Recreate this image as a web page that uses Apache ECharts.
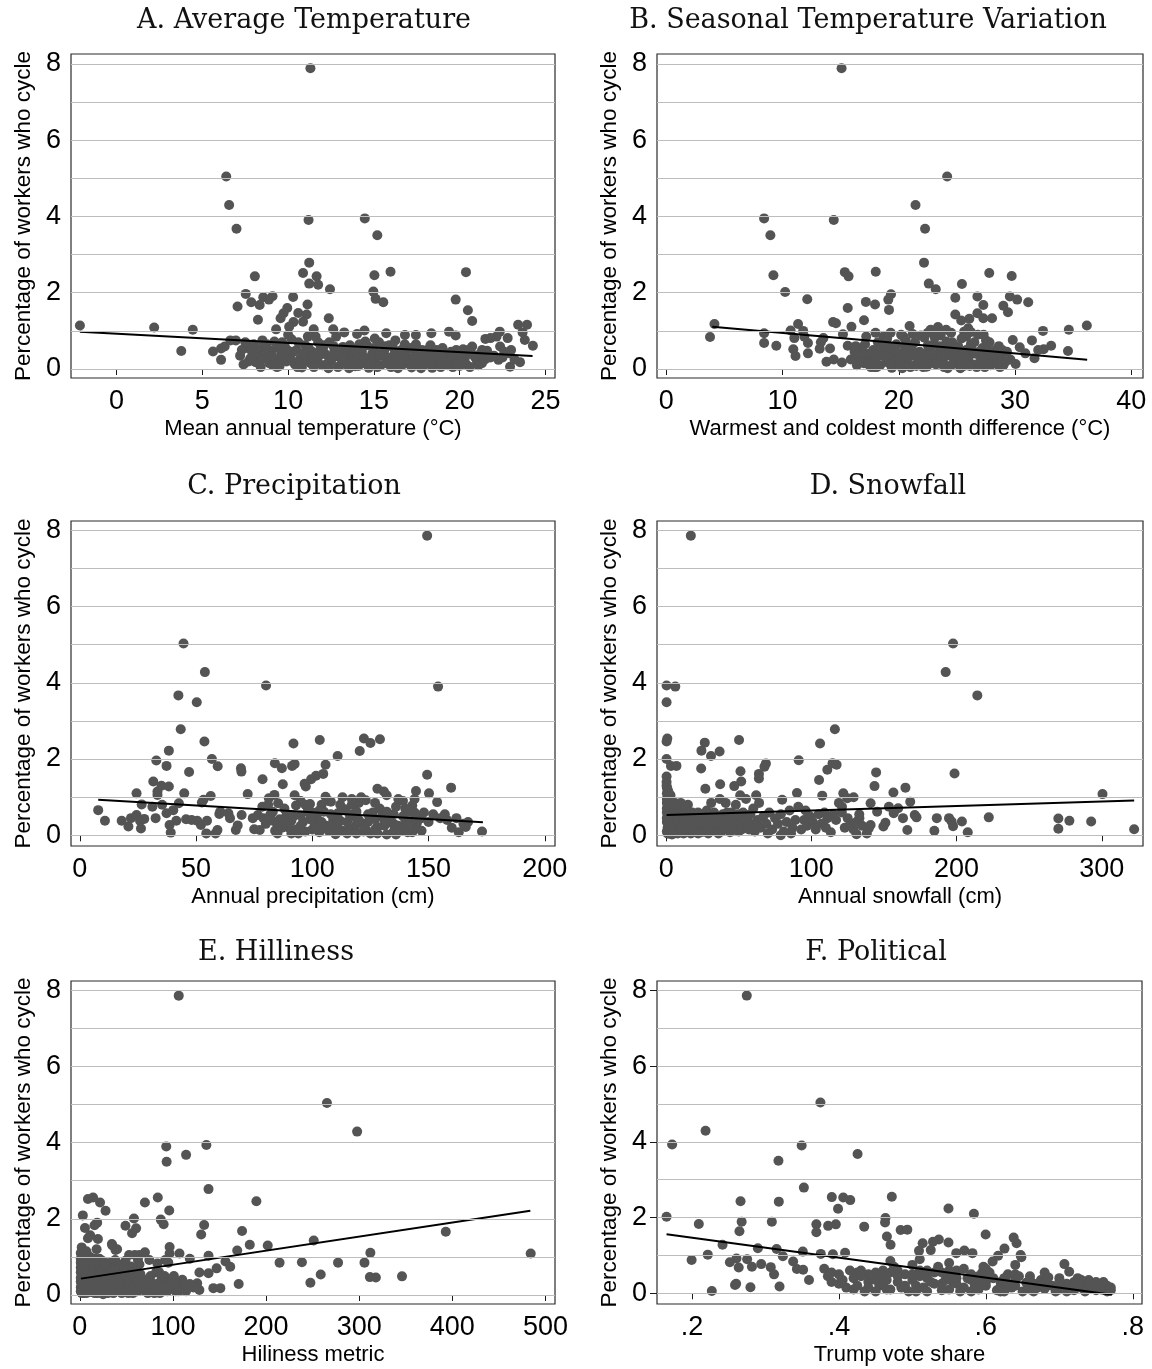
<!DOCTYPE html>
<html>
<head>
<meta charset="utf-8">
<script src="https://cdn.jsdelivr.net/npm/echarts@6/dist/echarts.min.js"></script>
<style>
  html, body { margin: 0; padding: 0; background: #fff; }
  #chart { width: 1152px; height: 1369px; }
</style>
</head>
<body>
<div id="chart"></div>
<script>
// Percentage of workers who cycle, by metro area, against six local characteristics.

const yGridValues = [0, 1, 2, 3, 4, 5, 6, 7, 8];
const yTickValues = [0, 2, 4, 6, 8];

// A. mean annual temperature (°C) vs. cycling share (%)
const avgTempPoints = [
  [11.3,7.89],[6.39,5.05],[6.56,4.30],[6.99,3.68],[11.19,3.91],[14.47,3.95],[15.2,3.51],[11.23,2.79],
  [10.87,2.52],[11.66,2.43],[11.23,2.24],[11.75,2.21],[12.44,2.09],[8.06,2.43],[15.03,2.46],[15.97,2.55],
  [20.37,2.54],[14.97,2.03],[15.1,1.84],[15.55,1.75],[19.77,1.82],[20.48,1.54],[20.73,1.26],[7.53,1.97],
  [7.85,1.75],[7.05,1.64],[8.34,1.68],[8.55,1.88],[9.09,1.91],[8.88,1.82],[10.29,1.89],[11.13,1.69],
  [9.95,1.6],[9.73,1.46],[10.59,1.47],[11.08,1.43],[9.56,1.33],[8.24,1.29],[12.37,1.33],[10.31,1.23],
  [10.87,1.24],[9.3,1.04],[10.06,1.11],[11.49,1.04],[12.63,1.04],[13.27,0.96],[14.02,0.92],[14.45,1.01],
  [15.72,0.94],[16.81,0.89],[17.45,0.89],[18.35,0.94],[19.38,0.98],[19.77,0.88],[22.34,0.98],[23.41,1.16],
  [23.93,1.16],[23.67,0.96],[23.8,0.76],[24.27,0.61],[22.8,0.81],[22.15,0.85],[21.5,0.79],[21.8,0.81],
  [-2.14,1.14],[2.19,1.09],[4.44,1.03],[3.77,0.47],[5.62,0.46],[6.09,0.54],[6.09,0.24],[6.3,0.59],
  [6.63,0.75],[6.95,0.75],[22.94,0.06],[23.52,0.18],[22.9,0.41],[22.26,0.24],[22.36,0.59],[21.31,0.5],
  [21.48,0.25],[20.73,0.59],[20.88,0.32],[20.13,0.15],[20.56,0.46],[20.2,0.52],[19.92,0.31],
  [7.2,0.35],[7.4,0.12],[7.6,0.55],[7.8,0.28],[8.0,0.65],[8.1,0.18],[8.3,0.42],[8.4,0.05],[8.6,0.58],
  [8.7,0.3],[8.9,0.15],[9.0,0.48],[9.2,0.72],[9.3,0.25],[9.5,0.08],[9.6,0.4],[9.8,0.6],[9.9,0.2],
  [10.1,0.33],[10.2,0.78],[10.4,0.12],[10.5,0.5],[10.7,0.27],[10.8,0.04],[11.0,0.62],[11.1,0.36],
  [11.3,0.15],[11.4,0.45],[11.6,0.85],[11.7,0.22],[11.9,0.55],[12.0,0.1],[12.2,0.38],[12.4,0.7],
  [12.5,0.2],[12.7,0.48],[12.9,0.05],[13.0,0.3],[13.2,0.58],[13.4,0.14],[13.5,0.42],[13.7,0.25],
  [13.9,0.07],[14.0,0.52],[14.2,0.33],[14.4,0.16],[14.6,0.62],[14.7,0.03],[14.9,0.4],[15.1,0.22],
  [15.3,0.7],[15.4,0.1],[15.6,0.48],[15.8,0.3],[16.0,0.05],[16.1,0.58],[16.3,0.18],[16.5,0.38],
  [16.7,0.12],[16.8,0.65],[17.0,0.28],[17.2,0.04],[17.4,0.45],[17.5,0.2],[17.7,0.35],[17.9,0.09],
  [18.1,0.5],[18.2,0.26],[18.4,0.03],[18.6,0.4],[18.8,0.15],[19.0,0.55],[19.1,0.3],[19.3,0.1],
  [19.5,0.45],[19.7,0.2],[19.9,0.35],[20.0,0.08],[20.3,0.28],[20.5,0.5],[21.0,0.22],[21.2,0.4],
  [21.6,0.48],[22.0,0.35],[22.5,0.3],[23.0,0.5],
  [7.5,0.7],[7.9,0.45],[8.2,0.3],[8.5,0.75],[8.8,0.5],[9.1,0.1],[9.4,0.55],[9.7,0.3],[10.0,0.9],
  [10.3,0.45],[10.6,0.7],[10.9,0.2],[11.2,0.55],[11.5,0.05],[11.8,0.35],[12.1,0.62],[12.3,0.15],
  [12.6,0.32],[12.8,0.85],[13.1,0.12],[13.3,0.35],[13.6,0.62],[13.8,0.2],[14.1,0.08],[14.3,0.45],
  [14.5,0.72],[14.8,0.25],[15.0,0.55],[15.2,0.05],[15.5,0.35],[15.7,0.15],[15.9,0.62],[16.2,0.4],
  [16.4,0.02],[16.6,0.5],[16.9,0.2],[17.1,0.55],[17.3,0.3],[17.6,0.12],[17.8,0.5],[18.0,0.25],
  [18.3,0.62],[18.5,0.12],[18.7,0.3],[18.9,0.05],[19.2,0.4],[19.4,0.25],[19.6,0.05],[19.8,0.5],
  [20.1,0.25],[20.4,0.12],[20.7,0.4],[21.1,0.1],[21.4,0.3],
  [7.3,0.5],[7.7,0.2],[8.15,0.55],[8.45,0.25],[8.75,0.65],[9.05,0.35],[9.35,0.05],[9.65,0.7],
  [9.95,0.5],[10.25,0.2],[10.55,0.05],[10.85,0.4],[11.15,0.85],[11.45,0.3],[11.75,0.7],[12.05,0.45],
  [12.35,0.02],[12.65,0.6],[12.95,0.4],[13.25,0.22],[13.55,0.02],[13.85,0.45],[14.15,0.65],[14.45,0.3],
  [14.75,0.12],[15.05,0.8],[15.35,0.4],[15.65,0.6],[15.95,0.2],[16.25,0.75],[16.55,0.25],[16.85,0.45],
  [17.15,0.15],[17.45,0.65],[17.75,0.02],[18.05,0.4],[18.35,0.2],[18.65,0.5],[18.95,0.35],[19.25,0.15],
  [19.55,0.35],[19.85,0.12],[20.15,0.42],[20.6,0.05],[21.3,0.15],[21.8,0.3],[22.6,0.45],[23.2,0.25]
];
const avgTempFit = [[-2.14, 0.98], [24.25, 0.34]];

// B. warmest minus coldest month (°C)
const seasonalPoints = [
  [15.08,7.89],[24.16,5.05],[21.44,4.30],[22.26,3.68],[8.42,3.95],[14.41,3.91],[8.96,3.51],[22.17,2.79],
  [9.22,2.46],[15.36,2.54],[15.68,2.43],[18.02,2.55],[27.78,2.52],[29.71,2.44],[22.58,2.24],[23.18,2.09],
  [25.43,2.23],[10.23,2.02],[12.13,1.83],[19.33,1.96],[19.1,1.82],[24.86,1.87],[26.76,1.9],[29.55,1.9],
  [30.18,1.82],[31.13,1.75],[28.99,1.66],[29.39,1.49],[17.17,1.76],[17.96,1.69],[19.16,1.55],[15.61,1.6],
  [27.27,1.68],[24.86,1.43],[25.37,1.27],[26.76,1.46],[27.27,1.33],[28.02,1.33],[26.07,1.32],[25.62,0.98],
  [25.97,1.07],[17.01,1.28],[15.93,1.11],[14.35,1.23],[14.6,1.2],[20.93,1.13],[22.74,1.03],[23.37,1.1],
  [24.07,1.03],[32.4,1.0],[34.62,1.03],[36.17,1.14],[34.55,0.47],[33.1,0.61],[32.46,0.52],[31.45,0.75],
  [31.67,0.28],[31.99,0.5],[29.8,0.76],[30.4,0.57],[30.88,0.41],[30.05,0.13],[3.77,0.84],[4.15,1.18],
  [8.42,0.94],[8.42,0.68],[9.47,0.61],[10.7,1.01],[11.34,1.18],[11.78,1.0],[11.02,0.81],[10.93,0.52],
  [11.12,0.34],[12.19,0.41],[12.19,0.68],[11.88,0.85],[13.3,0.7],[13.2,0.53],[13.52,0.81],[13.78,0.19],
  [14.41,0.25],[14.09,0.54],[15.2,0.91],[15.61,0.61],[15.11,0.17],[15.87,0.25],
  [16.2,0.45],[16.5,0.3],[16.8,0.55],[17.0,0.15],[17.3,0.4],[17.6,0.05],[17.8,0.5],[18.0,0.25],
  [18.2,0.7],[18.4,0.1],[18.6,0.35],[18.8,0.55],[19.0,0.18],[19.2,0.45],[19.4,0.03],[19.6,0.3],
  [19.8,0.65],[20.0,0.12],[20.2,0.4],[20.4,0.85],[20.6,0.2],[20.8,0.55],[21.0,0.05],[21.2,0.35],
  [21.4,0.7],[21.6,0.15],[21.8,0.45],[22.0,0.25],[22.2,0.82],[22.4,0.06],[22.6,0.5],[22.8,0.3],
  [23.0,0.65],[23.2,0.12],[23.4,0.42],[23.6,0.88],[23.8,0.2],[24.0,0.55],[24.2,0.02],[24.4,0.35],
  [24.6,0.7],[24.8,0.15],[25.0,0.45],[25.2,0.25],[25.4,0.8],[25.6,0.08],[25.8,0.5],[26.0,0.3],
  [26.2,0.65],[26.4,0.12],[26.6,0.4],[26.8,0.9],[27.0,0.2],[27.2,0.55],[27.4,0.05],[27.6,0.35],
  [27.8,0.7],[28.0,0.15],[28.2,0.45],[28.4,0.25],[28.6,0.6],[28.8,0.3],[29.0,0.1],[29.3,0.45],
  [29.6,0.25],
  [16.4,0.1],[16.9,0.35],[17.5,0.25],[17.9,0.05],[18.3,0.45],[18.7,0.85],[19.1,0.6],[19.5,0.22],
  [19.9,0.42],[20.3,0.02],[20.7,0.32],[21.1,0.6],[21.5,0.08],[21.9,0.88],[22.3,0.4],[22.7,0.15],
  [23.1,0.28],[23.5,0.6],[23.9,0.05],[24.3,0.48],[24.7,0.3],[25.1,0.6],[25.5,0.38],[25.9,0.15],
  [26.3,0.5],[26.7,0.05],[27.1,0.4],[27.5,0.75],[27.9,0.1],[28.3,0.5],[28.7,0.05],[19.3,0.95],
  [21.2,0.92],[22.5,0.95],[24.5,0.95],[26.2,0.97],[20.2,0.9],[23.1,0.82],[18.0,0.95],
  [16.3,0.6],[16.7,0.2],[17.1,0.65],[17.4,0.12],[17.7,0.38],[18.1,0.05],[18.5,0.58],[18.9,0.3],
  [19.3,0.12],[19.7,0.48],[20.1,0.25],[20.5,0.6],[20.9,0.12],[21.3,0.45],[21.7,0.3],[22.1,0.05],
  [22.5,0.62],[22.9,0.4],[23.3,0.2],[23.7,0.35],[24.1,0.72],[24.5,0.1],[24.9,0.55],[25.3,0.02],
  [25.7,0.3],[26.1,0.08],[26.5,0.7],[26.9,0.45],[27.3,0.25],[27.7,0.5],[28.1,0.35],[28.5,0.12],
  [28.9,0.5],[29.2,0.2],[17.2,0.85],[19.0,0.8],[20.6,0.75],[23.4,0.92],[25.8,0.85],[27.3,0.9]
];
const seasonalFit = [[3.96, 1.11], [36.2, 0.24]];

// C. annual precipitation (cm)
const precipPoints = [
  [149.4,7.86],[44.6,5.03],[53.8,4.28],[80.1,3.93],[154.1,3.9],[42.4,3.67],[50.3,3.49],[43.4,2.78],
  [53.6,2.46],[38.3,2.22],[32.9,1.96],[56.8,2.0],[59.3,1.81],[37.3,1.82],[47.0,1.66],[69.3,1.76],
  [69.5,1.67],[91.9,2.41],[103.2,2.5],[122.2,2.54],[125,2.42],[129.1,2.52],[120.4,2.21],[110.9,2.08],
  [83.9,1.89],[86.9,1.76],[91.3,1.82],[92.4,1.87],[105.7,1.85],[104.7,1.61],[101.6,1.56],[99.5,1.47],
  [96.7,1.35],[97.2,1.28],[78.6,1.47],[87.3,1.34],[149.4,1.59],[159.7,1.25],[150.2,1.1],[153.7,0.87],
  [144.6,1.16],[128,1.22],[130.8,1.15],[72.2,1.08],[92.4,1.05],[105.7,1.01],[24.4,1.1],[31.6,1.41],
  [35.1,1.3],[38.3,1.28],[33.4,1.15],[33.4,1.06],[44.9,1.1],[7.9,0.66],[10.8,0.38],[18.0,0.38],
  [20.9,0.23],[22.0,0.45],[24.4,0.53],[25.9,0.38],[26.3,0.18],[26.6,0.81],[27.7,0.43],[31.2,0.75],
  [32.6,0.45],[35.4,0.8],[37.3,0.58],[38.6,0.27],[39.1,0.07],[40.2,0.66],[41.5,0.38],[42.6,0.84],
  [45.7,0.42],[48.1,0.4],[50.5,0.38],[52.1,0.27],[52.5,0.86],[53.2,0.93],[54.4,0.05],[54.7,0.38],
  [56.3,1.03],[58.4,0.05],[59.2,0.14],[60.0,0.56],[60.4,0.62],[63.9,0.58],[64.6,0.45],[67.1,0.14],
  [67.9,0.26],[69.6,0.53],[74.4,0.45],[75.0,0.16],[76.6,0.53],[77.4,0.14],[78.5,0.75],[81.3,0.97],
  [83.7,1.06],[85.3,0.84],
  [80,0.3],[82,0.55],[84,0.12],[86,0.42],[88,0.7],[90,0.2],[92,0.5],[94,0.05],[96,0.35],[98,0.62],
  [100,0.15],[102,0.45],[104,0.8],[106,0.25],[108,0.55],[110,0.03],[112,0.38],[114,0.68],[116,0.18],
  [118,0.48],[120,0.85],[122,0.1],[124,0.35],[126,0.6],[128,0.22],[130,0.5],[132,0.02],[134,0.32],
  [136,0.75],[138,0.12],[140,0.42],[142,0.62],[144,0.2],[146,0.5],[81,0.8],[85,0.05],[89,0.28],
  [93,0.78],[97,0.1],[101,0.3],[105,0.62],[109,0.4],[113,0.12],[117,0.8],[121,0.32],[125,0.05],
  [129,0.7],[133,0.48],[137,0.25],[141,0.08],[145,0.32],[91,0.38],[95,0.52],[99,0.82],[103,0.08],
  [107,0.9],[111,0.58],[115,0.35],[119,0.05],[123,0.92],[127,0.42],[131,0.25],[135,0.55],[139,0.9],
  [143,0.78],[147,0.45],[83,0.38],[87,0.2],[103,0.22],[111,0.2],[119,0.28],[127,0.15],[135,0.1],
  [143,0.08],[150,0.35],[152,0.55],[155,0.45],[158,0.4],[160,0.2],[163,0.08],[165,0.3],[167,0.35],
  [162,0.45],[157,0.55],[148,0.6],[166,0.22],[173,0.1],[113,1.0],[117,0.95],[121,1.0],[132,1.05],
  [137,0.95],[108,0.88],[95,0.9],[140,0.7],[144,0.95],
  [79,0.45],[83,0.62],[87,0.4],[91,0.05],[95,0.25],[99,0.42],[103,0.65],[107,0.12],[111,0.4],
  [115,0.05],[119,0.62],[123,0.15],[127,0.85],[131,0.4],[135,0.3],[139,0.5],[143,0.38],[147,0.12],
  [100,0.6],[104,0.35],[108,0.25],[112,0.8],[116,0.55],[120,0.4],[124,0.55],[128,0.05],[132,0.62],
  [136,0.02],[140,0.25],[144,0.6],[97,0.8],[93,0.15],[89,0.55],[85,0.25]
];
const precipFit = [[7.9, 0.93], [173.4, 0.34]];

// D. annual snowfall (cm)
const snowPoints = [
  [17.0,7.86],[197.6,5.03],[192.5,4.28],[214.3,3.67],[0.3,3.93],[6.3,3.9],[0.3,3.49],[116.2,2.78],
  [0.8,2.54],[0.3,2.46],[26.6,2.43],[50.2,2.5],[106,2.41],[24.3,2.22],[36.8,2.2],[30.9,2.08],
  [0.3,2.0],[91.3,1.97],[3.3,1.82],[7.1,1.82],[68.7,1.88],[67.7,1.8],[114.6,1.89],[117.4,1.85],
  [111,1.72],[24.1,1.75],[51.2,1.68],[63.9,1.61],[63.9,1.49],[198.6,1.62],[144.6,1.65],[0.3,1.54],
  [105.3,1.45],[51.7,1.41],[37.2,1.34],[46.9,1.29],[143.5,1.29],[164.8,1.25],[27.0,1.22],[156.5,1.12],
  [300.5,1.08],[90.1,1.11],[107.5,1.04],[122,1.1],[124.8,0.97],[129.1,1.0],[79.9,0.93],[168.1,0.88],
  [140.8,0.84],[153.4,0.75],[159.8,0.71],[145.3,0.62],[171.2,0.53],[172.4,0.47],[186.4,0.45],
  [194.8,0.45],[196.6,0.36],[197.6,0.24],[203.7,0.36],[184.7,0.12],[166.1,0.14],[207.7,0.08],
  [222.2,0.47],[270.1,0.44],[270.1,0.17],[277.7,0.38],[292.7,0.36],[322.3,0.16],[156.7,0.58],
  [163.1,0.45],[151,0.33],[149.6,0.23],[139.5,0.18],[140.8,0.27],[138.2,0.05],[131.1,0.03],
  [113.4,0.08],[78.9,0.0],[133.1,0.45],[121.1,0.75],
  [0.5,0.1],[0.5,0.35],[0.5,0.6],[0.5,0.85],[0.5,1.1],[0.5,1.25],[1,0.2],[1,0.5],[1,0.75],[1,1.0],
  [1.5,0.05],[1.5,0.45],[2,0.3],[2,0.65],[2,0.9],[3,0.15],[3,0.55],[3,0.8],[4,0.02],[4,0.4],[4,0.7],
  [5,0.25],[5,0.6],[6,0.1],[6,0.45],[6,0.85],[7,0.3],[8,0.05],[8,0.55],[9,0.2],[9,0.75],[10,0.4],
  [11,0.1],[11,0.6],[12,0.3],[13,0.5],[14,0.15],[15,0.8],[16,0.35],[17,0.05],[18,0.6],[19,0.25],
  [20,0.45],[21,0.15],[22,0.6],[23,0.3],[24,0.08],[25,0.5],[26,0.35],[27,0.2],[28,0.65],[29,0.05],
  [30,0.4],[31,0.85],[32,0.25],[33,0.6],[34,0.12],[35,0.45],[36,0.3],[37,0.95],[38,0.1],[39,0.55],
  [40,0.35],[41,0.85],[42,0.2],[43,0.45],[44,0.08],[45,0.6],[46,0.3],[47,0.15],[48,0.8],[49,0.45],
  [50,0.1],[51,1.05],[52,0.35],[53,0.6],[54,0.2],[55,0.95],[56,0.45],[57,0.15],[58,0.3],[60,0.7],
  [61,0.1],[62,1.05],[63,0.4],[64,0.85],[65,0.2],[67,0.5],[69,0.3],[71,0.6],[73,0.15],[75,0.45],
  [77,0.3],[79,0.55],[81,0.1],[83,0.35],[85,0.65],[87,0.2],[89,0.4],[91,0.75],[93,0.15],[95,0.4],
  [97,0.25],[99,0.5],[101,0.35],[103,0.15],[105,0.55],[107,0.3],[109,0.6],[111,0.45],[115,0.55],
  [117,0.4],[119,0.85],[121,0.6],[123,0.2],[125,0.45],[127,0.3],[129,0.15],[131,0.35],[133,0.55],
  [135,0.25],[0.5,0.95],[1,1.2],[3,1.05],[7,0.7],[10,0.85],[13,0.25],[20,0.1],[31,0.5],[45,0.25],
  [60,0.25],[70,0.05],[86,0.05],[96,0.65],[110,0.2],
  [0.5,0.45],[0.5,0.7],[1,0.05],[1,0.35],[1,0.62],[1,0.88],[2,0.1],[2,0.5],[2,0.78],[2,1.05],
  [3,0.35],[3,0.65],[4,0.25],[4,0.55],[4,0.9],[5,0.05],[5,0.45],[5,0.8],[6,0.3],[6,0.65],[7,0.1],
  [7,0.5],[8,0.35],[8,0.8],[9,0.45],[10,0.15],[10,0.6],[11,0.35],[12,0.05],[12,0.55],[13,0.75],
  [14,0.4],[15,0.2],[16,0.6],[17,0.35],[18,0.15],[19,0.5],[21,0.4],[22,0.05],[23,0.55],[24,0.3],
  [26,0.1],[27,0.5],[28,0.3],[30,0.15],[32,0.45],[34,0.35],[36,0.05],[38,0.35],[40,0.15],[42,0.6],
  [44,0.35],[46,0.5],[48,0.25],[50,0.55],[52,0.15],[54,0.4],[56,0.25],[58,0.55],[0.3,1.4],
  [0.3,1.3],[1.5,1.15]
];
const snowFit = [[0.3, 0.53], [322.3, 0.91]];

// E. hilliness metric
const hillPoints = [
  [106.2,7.86],[265.4,5.04],[297.8,4.29],[92.8,3.9],[135.9,3.94],[93.2,3.5],[114.1,3.68],[138.2,2.78],
  [83.7,2.56],[69.9,2.43],[189.6,2.46],[8.7,2.52],[14.2,2.56],[21.7,2.43],[27.6,2.21],[96.0,2.22],
  [3.2,2.09],[58.1,2.01],[86.9,1.98],[90.0,1.86],[18.6,1.9],[15.8,1.83],[49.0,1.82],[133.5,1.84],
  [60.4,1.75],[5.5,1.76],[56.1,1.62],[174.2,1.68],[130.3,1.59],[393,1.66],[8.7,1.49],[19.4,1.47],
  [11.1,1.57],[251.2,1.43],[182.5,1.32],[201.8,1.3],[96.4,1.26],[34.4,1.34],[38.3,1.18],[169,1.17],
  [312,1.11],[484.2,1.09],[107,1.09],[69.9,1.12],[138.2,1.03],[118.1,0.95],[156.4,0.88],[161.5,0.74],
  [214.5,0.85],[238.5,0.86],[277.3,0.85],[305.7,0.85],[146.9,0.7],[128.4,0.59],[138.2,0.57],
  [258.7,0.54],[311.5,0.47],[317.9,0.46],[346,0.49],[247.6,0.32],[170.6,0.29],[143.4,0.18],
  [150.9,0.18],[128.4,0.13],[126,0.31],[118.1,0.29],[96.4,1.09],[91.7,0.92],[74.6,0.92],[62.4,0.92],
  [64,1.05],[52.9,1.05],[37.9,0.92],[83.3,0.83],
  [1,0.1],[1,0.35],[1,0.6],[1,0.85],[1,1.1],[2,1.25],[3,0.2],[3,0.5],[3,0.75],[3,1.0],[4,0.05],
  [5,0.4],[5,0.65],[6,0.9],[7,0.25],[7,1.15],[8,0.55],[9,0.1],[9,0.8],[10,0.35],[11,1.0],[12,0.6],
  [13,0.2],[14,0.85],[15,0.45],[16,0.05],[17,0.7],[18,1.2],[19,0.3],[20,0.55],[21,0.95],[22,0.15],
  [23,0.75],[24,0.4],[25,0.02],[26,0.6],[27,0.85],[28,0.25],[29,0.45],[30,0.7],[31,0.1],[32,0.5],
  [33,0.85],[34,0.3],[35,1.3],[36,0.05],[37,0.6],[38,0.9],[39,0.2],[40,0.4],[41,0.75],[42,0.1],
  [43,0.55],[44,0.3],[46,0.8],[47,0.15],[48,0.45],[50,0.25],[51,0.65],[52,0.05],[54,0.4],[55,0.75],
  [56,0.2],[58,0.55],[59,1.05],[60,0.3],[62,0.1],[63,0.45],[64,0.8],[66,0.25],[68,0.4],[70,0.1],
  [72,0.35],[74,0.2],[76,0.5],[78,0.3],[80,0.05],[82,0.6],[84,0.3],[86,0.05],[88,0.45],[90,0.2],
  [92,0.35],[94,0.1],[95,0.85],[97,0.4],[99,0.25],[101,0.5],[103,0.1],[105,0.3],[108,0.15],[110,0.4],
  [112,0.2],[118,0.25],[122,0.2],[1,0.95],[2,0.45],[4,0.8],[6,0.25],[8,1.05],[10,0.7],[12,0.08],
  [14,0.3],[16,0.95],[18,0.5],[20,0.2],[22,0.8],[24,0.9],[26,0.3],[28,0.7],[30,0.05],[33,0.2],
  [36,0.45],[40,1.2],[45,0.6],[49,0.9],[53,0.45],[57,0.3],[61,0.6],[65,0.55],[69,0.35],[73,0.05],
  [77,0.15],[85,0.6],[91,0.5],[100,0.45],
  [1,0.2],[1,0.45],[1,0.72],[2,0.05],[2,0.3],[2,0.6],[2,0.85],[3,0.35],[3,0.62],[4,0.25],[4,0.5],
  [4,1.0],[5,0.15],[5,0.9],[6,0.5],[6,0.7],[7,0.05],[7,0.45],[8,0.3],[8,0.8],[9,0.6],[10,0.15],
  [10,0.95],[11,0.45],[12,0.3],[12,0.85],[13,0.55],[14,0.1],[15,0.7],[16,0.35],[17,0.2],[18,0.9],
  [19,0.05],[20,0.75],[21,0.4],[22,0.6],[23,0.2],[24,0.65],[25,0.35],[26,0.85],[27,0.1],[28,0.5],
  [29,0.75],[30,0.3],[31,0.6],[32,0.2],[33,0.45],[34,0.65],[35,0.15],[37,0.35],[38,0.1],[39,0.7],
  [41,0.3],[42,0.8],[43,0.2],[44,0.6],[45,0.05],[46,0.4],[48,0.7],[49,0.15],[50,0.5],[52,0.3],
  [54,0.15],[55,0.55],[57,0.05],[58,0.2],[60,0.5],[62,0.35],[64,0.15],[66,0.45],[68,0.15],[70,0.3],
  [75,0.35],[79,0.2],[83,0.15],[87,0.25],[93,0.2],[96,0.2],[102,0.3],[106,0.1],[114,0.1]
];
const hillFit = [[1.2, 0.43], [483.8, 2.21]];

// F. Trump vote share
const trumpPoints = [
  [0.2746,7.86],[0.3748,5.04],[0.2185,4.29],[0.173,3.93],[0.3493,3.9],[0.4254,3.68],[0.3177,3.5],
  [0.3523,2.79],[0.472,2.55],[0.3903,2.54],[0.4059,2.53],[0.4154,2.46],[0.2661,2.43],[0.3182,2.42],
  [0.3988,2.23],[0.5491,2.24],[0.5837,2.1],[0.1654,2.02],[0.4633,1.99],[0.2676,1.89],[0.3087,1.89],
  [0.2093,1.83],[0.3693,1.82],[0.3958,1.82],[0.3853,1.78],[0.4628,1.87],[0.4344,1.76],[0.484,1.67],
  [0.4931,1.68],[0.2646,1.64],[0.3693,1.61],[0.5997,1.55],[0.4653,1.5],[0.6378,1.47],[0.4703,1.28],
  [0.6418,1.32],[0.5491,1.34],[0.536,1.42],[0.528,1.36],[0.514,1.32],[0.525,1.14],[0.509,1.12],
  [0.6253,1.18],[0.5707,1.13],[0.5597,1.06],[0.5817,1.06],[0.6473,1.01],[0.6483,0.95],[0.2416,1.28],
  [0.2897,1.19],[0.3152,1.17],[0.3508,1.1],[0.4084,1.07],[0.3237,0.98],[0.3918,1.03],[0.3753,1.04],
  [0.2215,1.02],[0.1995,0.88],[0.2751,0.9],[0.2606,0.92],[0.2516,0.82],[0.2636,0.68],[0.2816,0.7],
  [0.2942,0.77],[0.3072,0.69],[0.3117,0.5],[0.3377,0.84],[0.3428,0.64],[0.3513,0.62],[0.3593,0.35],
  [0.2601,0.25],[0.2586,0.22],[0.2796,0.16],[0.3192,0.18],[0.227,0.06],[0.7069,0.77],[0.7134,0.57],
  [0.5967,0.7],[0.6092,0.84],[0.6167,0.99],
  [0.38,0.65],[0.39,0.3],[0.40,0.5],[0.41,0.15],[0.42,0.4],[0.43,0.6],[0.435,0.05],[0.44,0.3],
  [0.45,0.55],[0.455,0.2],[0.46,0.45],[0.47,0.1],[0.475,0.7],[0.48,0.3],[0.49,0.5],[0.495,0.05],
  [0.50,0.35],[0.51,0.6],[0.515,0.15],[0.52,0.4],[0.53,0.25],[0.535,0.7],[0.54,0.08],[0.55,0.45],
  [0.555,0.3],[0.56,0.6],[0.57,0.15],[0.575,0.4],[0.58,0.05],[0.59,0.3],[0.595,0.55],[0.60,0.2],
  [0.61,0.4],[0.615,0.08],[0.62,0.3],[0.63,0.5],[0.635,0.15],[0.64,0.35],[0.65,0.05],[0.655,0.28],
  [0.66,0.45],[0.67,0.15],[0.675,0.35],[0.68,0.55],[0.69,0.2],[0.695,0.05],[0.70,0.4],[0.71,0.25],
  [0.715,0.1],[0.72,0.3],[0.73,0.15],[0.735,0.05],[0.74,0.35],[0.745,0.2],[0.75,0.08],[0.755,0.25],
  [0.76,0.12],[0.765,0.05],[0.77,0.08],[0.765,0.2],[0.75,0.3],[0.73,0.35],[0.72,0.08],[0.70,0.1],
  [0.68,0.3],[0.66,0.1],[0.64,0.5],[0.62,0.05],[0.60,0.45],[0.58,0.5],[0.56,0.25],[0.54,0.55],
  [0.52,0.05],[0.50,0.75],[0.48,0.6],[0.46,0.25],[0.44,0.5],[0.42,0.1],[0.40,0.25],[0.385,0.45],
  [0.425,0.55],[0.465,0.35],[0.505,0.2],[0.545,0.35],[0.585,0.2],[0.625,0.4],[0.665,0.25],
  [0.705,0.15],[0.745,0.12],[0.57,0.65],[0.53,0.55],[0.49,0.2],[0.45,0.05],[0.47,0.85],[0.51,0.9],
  [0.55,0.8],[0.60,0.65],[0.64,0.75],
  [0.39,0.55],[0.405,0.35],[0.415,0.6],[0.425,0.2],[0.44,0.15],[0.45,0.35],[0.46,0.6],[0.465,0.1],
  [0.48,0.45],[0.485,0.15],[0.50,0.5],[0.505,0.05],[0.52,0.6],[0.525,0.3],[0.54,0.25],[0.55,0.1],
  [0.56,0.4],[0.565,0.05],[0.58,0.35],[0.59,0.1],[0.60,0.3],[0.605,0.55],[0.62,0.18],[0.625,0.05],
  [0.64,0.2],[0.645,0.45],[0.66,0.35],[0.665,0.05],[0.68,0.12],[0.685,0.42],[0.70,0.3],[0.71,0.05],
  [0.72,0.2],[0.725,0.4],[0.74,0.25],[0.755,0.15],[0.76,0.3],[0.77,0.15],[0.43,0.45],[0.47,0.55],
  [0.51,0.45],[0.55,0.6],[0.59,0.45],[0.63,0.25]
];
const trumpFit = [[0.1654, 1.56], [0.7715, -0.04]];

// Panel definitions: titles, axis labels, ticks and ranges
const panels = [
  { title: 'A. Average Temperature', titleX: 304, titleY: 21,
    xName: 'Mean annual temperature (\u00B0C)', xTicks: [0, 5, 10, 15, 20, 25], xRange: [-2.66, 25.56],
    yRange: [-0.236, 8.262], box: [71, 54, 484, 324], points: avgTempPoints, fit: avgTempFit },
  { title: 'B. Seasonal Temperature Variation', titleX: 868, titleY: 21,
    xName: 'Warmest and coldest month difference (\u00B0C)', xTicks: [0, 10, 20, 30, 40], xRange: [-0.79, 41.0],
    yRange: [-0.236, 8.262], box: [657, 54, 486, 324], points: seasonalPoints, fit: seasonalFit },
  { title: 'C. Precipitation', titleX: 294, titleY: 487,
    xName: 'Annual precipitation (cm)', xTicks: [0, 50, 100, 150, 200], xRange: [-3.8, 204.4],
    yRange: [-0.281, 8.244], box: [71, 521, 484, 325], points: precipPoints, fit: precipFit },
  { title: 'D. Snowfall', titleX: 888, titleY: 487,
    xName: 'Annual snowfall (cm)', xTicks: [0, 100, 200, 300], xRange: [-6.3, 328.4],
    yRange: [-0.281, 8.244], box: [657, 521, 486, 325], points: snowPoints, fit: snowFit },
  { title: 'E. Hilliness', titleX: 276, titleY: 953,
    xName: 'Hiliness metric', xTicks: [0, 100, 200, 300, 400, 500], xRange: [-9.5, 510.3],
    yRange: [-0.236, 8.244], box: [71, 981, 484, 323], points: hillPoints, fit: hillFit },
  { title: 'F. Political', titleX: 876, titleY: 953,
    xName: 'Trump vote share', xTicks: [0.2, 0.4, 0.6, 0.8], xRange: [0.1524, 0.8125],
    yRange: [-0.283, 8.246], box: [657, 981, 485, 323], points: trumpPoints, fit: trumpFit,
    fmt: v => String(v).replace(/^0\./, '.') }
];

const sans = 'Liberation Sans, Arial, Helvetica, sans-serif';
const serif = 'DejaVu Serif, Liberation Serif, serif';
const ink = '#1a1a1a';

const grids = [], xAxes = [], yAxes = [], series = [], graphics = [];

panels.forEach((p, i) => {
  grids.push({
    left: p.box[0], top: p.box[1], width: p.box[2], height: p.box[3],
    show: true, borderColor: '#2b2b2b', borderWidth: 1.2, backgroundColor: '#fff'
  });
  xAxes.push({
    gridIndex: i, type: 'value', min: p.xRange[0], max: p.xRange[1],
    axisLine: { show: false },
    axisTick: { show: true, inside: false, length: 6, customValues: p.xTicks,
      lineStyle: { color: ink, width: 1 } },
    axisLabel: { customValues: p.xTicks, margin: 10, fontSize: 27, color: '#000', fontFamily: sans,
      formatter: p.fmt || (v => String(v)) },
    splitLine: { show: false },
    name: p.xName, nameLocation: 'middle', nameGap: 40,
    nameTextStyle: { fontSize: 22, color: '#000', fontFamily: sans }
  });
  yAxes.push({
    gridIndex: i, type: 'value', min: p.yRange[0], max: p.yRange[1],
    axisLine: { show: false },
    axisTick: { show: true, inside: false, length: 7, customValues: yTickValues,
      lineStyle: { color: ink, width: 1 } },
    axisLabel: { customValues: yTickValues, margin: 10, fontSize: 27, color: '#000', fontFamily: sans },
    splitLine: { show: false },
    name: 'Percentage of workers who cycle', nameLocation: 'middle', nameGap: 36, nameRotate: 90,
    nameTextStyle: { fontSize: 22.5, color: '#000', fontFamily: sans }
  });
  // horizontal reference lines at every unit
  series.push({
    type: 'scatter', xAxisIndex: i, yAxisIndex: i, data: [], z: 1, silent: true,
    markLine: {
      silent: true, symbol: 'none', animation: false, label: { show: false },
      lineStyle: { color: '#bdbdbd', width: 1, type: 'solid' },
      data: yGridValues.map(v => ({ yAxis: v }))
    }
  });
  series.push({
    type: 'scatter', xAxisIndex: i, yAxisIndex: i, data: p.points, z: 3,
    symbol: 'circle', symbolSize: 10, itemStyle: { color: '#545454', opacity: 1 }
  });
  series.push({
    type: 'line', xAxisIndex: i, yAxisIndex: i, data: p.fit, z: 4,
    symbol: 'none', lineStyle: { color: '#000', width: 2 }
  });
  graphics.push({
    type: 'text', x: p.titleX, y: p.titleY,
    style: { text: p.title, font: '27px ' + serif, fill: '#111',
      textAlign: 'center', textVerticalAlign: 'middle' }
  });
});

const chart = echarts.init(document.getElementById('chart'), null, { renderer: 'canvas' });
chart.setOption({
  animation: false,
  backgroundColor: '#fff',
  grid: grids,
  xAxis: xAxes,
  yAxis: yAxes,
  series: series,
  graphic: graphics
});
</script>
</body>
</html>
